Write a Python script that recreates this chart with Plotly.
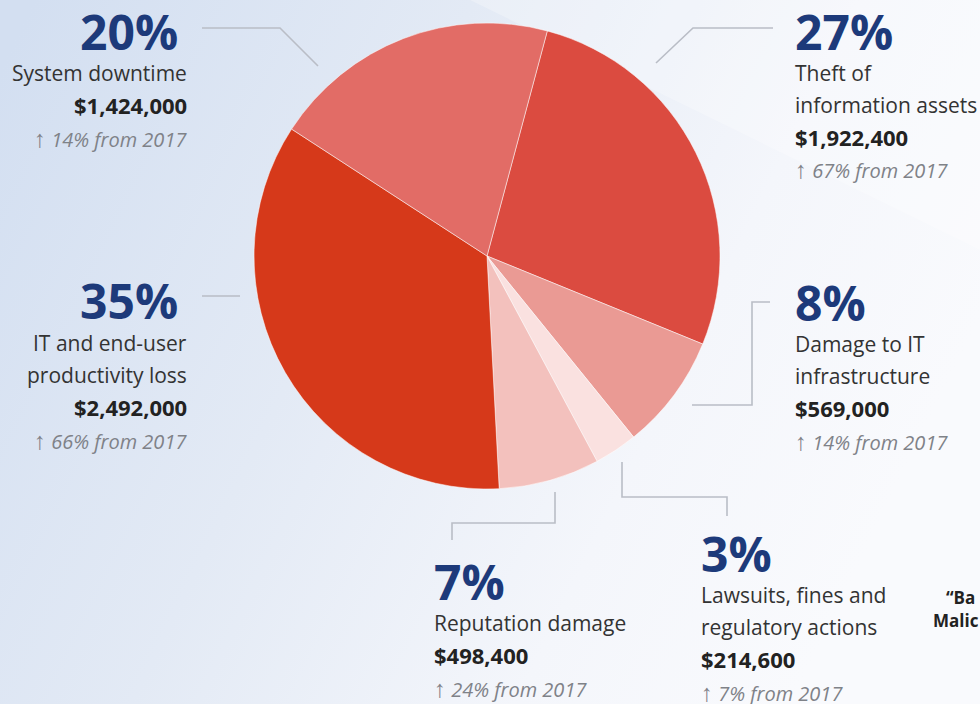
import plotly.graph_objects as go
import urllib.parse

W, H = 980, 704

categories = ["Theft of information assets", "Damage to IT infrastructure",
              "Lawsuits, fines and regulatory actions", "Reputation damage",
              "IT and end-user productivity loss", "System downtime"]
shares = [27, 8, 3, 7, 35, 20]
costs = ["$1,922,400", "$569,000", "$214,600", "$498,400", "$2,492,000", "$1,424,000"]
changes = ["67%", "14%", "7%", "24%", "66%", "14%"]
label_lines = [["Theft of", "information assets"], ["Damage to IT", "infrastructure"],
               ["Lawsuits, fines and", "regulatory actions"], ["Reputation damage"],
               ["IT and end-user", "productivity loss"], ["System downtime"]]
colors = ["#db4b40", "#ea9a94", "#fae1e0", "#f3c1bd", "#d6391a", "#e26c66"]

def px(x):
    return x / W

def py(y):
    return 1 - y / H

# pie geometry (pixels)
cx, cy, r = 487, 256, 233

fig = go.Figure()
fig.add_trace(go.Pie(
    labels=categories, values=shares, sort=False, direction="clockwise",
    rotation=15, textinfo="none", hoverinfo="label+percent",
    marker=dict(colors=colors, line=dict(color="rgba(255,255,255,0.5)", width=1)),
    domain=dict(x=[px(cx - r), px(cx + r)], y=[py(cy + r), py(cy - r)]),
    showlegend=False,
))

svg = f'''<svg xmlns="http://www.w3.org/2000/svg" width="{W}" height="{H}" viewBox="0 0 {W} {H}">
<defs><linearGradient id="g" x1="0" y1="0.1" x2="1" y2="0.45">
<stop offset="0" stop-color="#d3dff1"/><stop offset="0.4" stop-color="#e3eaf5"/>
<stop offset="0.75" stop-color="#f4f6fb"/><stop offset="1" stop-color="#f9fafd"/></linearGradient></defs>
<rect width="{W}" height="{H}" fill="url(#g)"/>
<polygon points="470,0 980,0 980,250" fill="#ffffff" fill-opacity="0.25"/>
</svg>'''
src = "data:image/svg+xml;charset=utf-8," + urllib.parse.quote(svg)

NAVY = "#1d3a7a"
TXT = "#333333"
GRAY = "#7f8288"
FONT = "Open Sans"

anns = []

def block(x, anchor, pct_y, pct, lines, cost, change, line_h=32, big_x=None):
    bx = big_x if big_x is not None else x
    anns.append(dict(x=px(bx), y=py(pct_y), text=f"<b>{pct}%</b>", xanchor=anchor, yanchor="middle",
                     font=dict(family=FONT, size=48, color=NAVY)))
    y = pct_y + 42
    for ln in lines:
        anns.append(dict(x=px(x), y=py(y), text=ln, xanchor=anchor, yanchor="middle",
                         font=dict(family=FONT, size=21, color=TXT)))
        y += line_h
    anns.append(dict(x=px(x), y=py(y), text=f"<b>{cost}</b>", xanchor=anchor, yanchor="middle",
                     font=dict(family=FONT, size=22, color="#222222")))
    y += line_h
    anns.append(dict(x=px(x), y=py(y), text=f"<span style='font-size:24px'>↑</span> <i>{change} from 2017</i>",
                     xanchor=anchor, yanchor="middle",
                     font=dict(family=FONT, size=20, color=GRAY)))

# right side blocks
block(793, "left", 31, shares[0], label_lines[0], costs[0], changes[0])
block(793, "left", 302, shares[1], label_lines[1], costs[1], changes[1])
block(699, "left", 553, shares[2], label_lines[2], costs[2], changes[2])
block(432, "left", 581, shares[3], label_lines[3], costs[3], changes[3])
# left side blocks
block(189, "right", 301, shares[4], label_lines[4], costs[4], changes[4], big_x=180)
block(189, "right", 31, shares[5], label_lines[5], costs[5], changes[5], big_x=180)

anns.append(dict(x=px(944), y=py(597), text="<b>“Ba</b>", xanchor="left", yanchor="middle",
                 font=dict(family=FONT, size=17, color="#222222")))
anns.append(dict(x=px(931), y=py(620), text="<b>Malic</b>", xanchor="left", yanchor="middle",
                 font=dict(family=FONT, size=17, color="#222222")))

# connectors (pixel paths)
connectors = [
    [(202, 28), (280, 28), (318, 66)],
    [(773, 28), (693, 28), (656, 63)],
    [(202, 296), (240, 296)],
    [(770, 302), (752, 302), (752, 405), (692, 405)],
    [(555, 492), (555, 523), (452, 523), (452, 540)],
    [(622, 462), (622, 497), (727, 497), (727, 516)],
]
shapes = []
for pts in connectors:
    path = "M " + " L ".join(f"{px(a)},{py(b)}" for a, b in pts)
    shapes.append(dict(type="path", xref="paper", yref="paper", path=path,
                       line=dict(color="#b9bdc6", width=1.6)))

fig.update_layout(
    width=W, height=H, margin=dict(l=0, r=0, t=0, b=0),
    paper_bgcolor="#eef2f9", plot_bgcolor="rgba(0,0,0,0)",
    images=[dict(source=src, xref="paper", yref="paper", x=0, y=1, sizex=1, sizey=1,
                 xanchor="left", yanchor="top", sizing="stretch", layer="below")],
    annotations=[dict(a, xref="paper", yref="paper", showarrow=False) for a in anns],
    shapes=shapes,
)
fig.write_html("out.html")
